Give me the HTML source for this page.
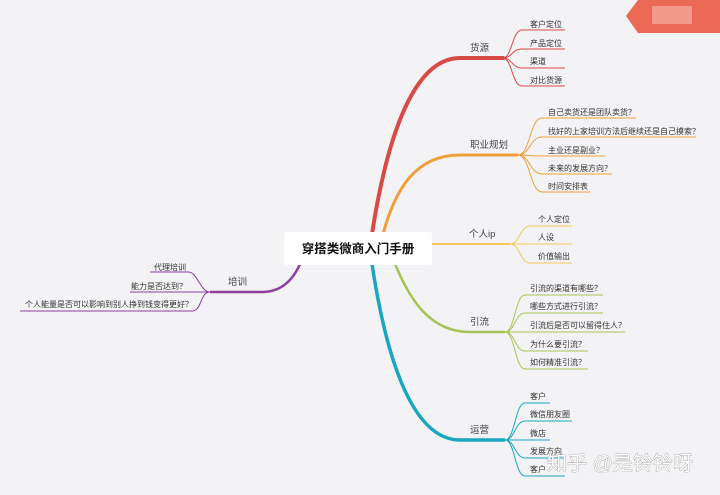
<!DOCTYPE html>
<html><head><meta charset="utf-8"><style>
html,body{margin:0;padding:0;background:#f3f3f6;}
svg{display:block}
text{font-family:"Liberation Sans","Noto Sans CJK SC",sans-serif;fill:#333;}
.c{font-size:8px}
.b{font-size:9.5px;fill:#444}
</style></head><body>
<svg width="720" height="495" viewBox="0 0 720 495" xmlns="http://www.w3.org/2000/svg">
<rect width="720" height="495" fill="#f3f3f6"/>
<!-- watermark banner -->
<polygon points="638,0 720,0 720,33 638,33 626,16" fill="#ec6a55"/>
<rect x="652" y="6" width="40" height="18" fill="#f4a89b" opacity="0.8"/>
<!-- main branches -->
<path d="M372,234 C385,150 410,58 460,58 L503,58" stroke="#d84a45" stroke-width="4" fill="none" stroke-linecap="round"/>
<path d="M383,234 C395,190 415,155 460,155 L518,155" stroke="#f0a03a" stroke-width="3" fill="none"/>
<path d="M430,244 L510,244" stroke="#f3c75a" stroke-width="2" fill="none"/>
<path d="M395,264 C410,300 430,332 470,332 L505,332" stroke="#a7c354" stroke-width="2.5" fill="none"/>
<path d="M372,264 C385,350 410,440 460,440 L505,440" stroke="#1aa6c0" stroke-width="3.5" fill="none"/>
<path d="M300,264 C292,282 280,292 262,292 L210,292" stroke="#8e3fa1" stroke-width="2.5" fill="none"/>
<!-- red children -->
<g stroke="#d84a45" stroke-width="1" fill="none">
<path d="M503,58 C512,58 512,30 522,30 L565,30"/>
<path d="M503,58 C512,58 512,49 522,49 L565,49"/>
<path d="M503,58 C512,58 512,68 522,68 L565,68"/>
<path d="M503,58 C512,58 512,86 522,86 L565,86"/>
</g>
<g stroke="#f0a03a" stroke-width="1" fill="none">
<path d="M518,155 C530,155 530,118 542,118 L636,118"/>
<path d="M518,155 C530,155 530,137 542,137 L696,137"/>
<path d="M518,155 C530,155 530,156 542,156 L605,156"/>
<path d="M518,155 C530,155 530,174 542,174 L612,174"/>
<path d="M518,155 C530,155 530,192 542,192 L590,192"/>
</g>
<g stroke="#f3c75a" stroke-width="1" fill="none">
<path d="M510,244 C520,244 520,226 530,226 L572,226"/>
<path d="M510,244 L572,244"/>
<path d="M510,244 C520,244 520,263 530,263 L572,263"/>
</g>
<g stroke="#a7c354" stroke-width="1" fill="none">
<path d="M505,332 C515,332 515,295 525,295 L603,295"/>
<path d="M505,332 C515,332 515,313 525,313 L603,313"/>
<path d="M505,332 L625,332"/>
<path d="M505,332 C515,332 515,351 525,351 L588,351"/>
<path d="M505,332 C515,332 515,369 525,369 L588,369"/>
</g>
<g stroke="#1aa6c0" stroke-width="1" fill="none">
<path d="M505,440 C515,440 515,403 525,403 L550,403"/>
<path d="M505,440 C515,440 515,421 525,421 L572,421"/>
<path d="M505,440 L550,440"/>
<path d="M505,440 C515,440 515,458 525,458 L565,458"/>
<path d="M505,440 C515,440 515,476 525,476 L565,476"/>
</g>
<g stroke="#8e3fa1" stroke-width="1" fill="none">
<path d="M210,292 C200,292 198,272 188,272 L150,272"/>
<path d="M210,292 L130,292"/>
<path d="M210,292 C200,292 202,311 192,311 L20,311"/>
</g>
<!-- center -->
<rect x="284" y="232" width="148" height="33" fill="#fff" rx="3"/>
<text x="358" y="253" text-anchor="middle" style="font-size:12.5px;font-weight:bold;fill:#111">穿搭类微商入门手册</text>
<!-- labels -->
<text class="b" x="470" y="51">货源</text>
<text class="b" x="470" y="148">职业规划</text>
<text class="b" x="469" y="237">个人ip</text>
<text class="b" x="470" y="325">引流</text>
<text class="b" x="470" y="433">运营</text>
<text class="b" x="228" y="285">培训</text>
<text class="c" x="530" y="27">客户定位</text>
<text class="c" x="530" y="46">产品定位</text>
<text class="c" x="530" y="64">渠道</text>
<text class="c" x="530" y="83">对比货源</text>
<text class="c" x="548" y="115">自己卖货还是团队卖货？</text>
<text class="c" x="548" y="134">找好的上家培训方法后继续还是自己摸索？</text>
<text class="c" x="548" y="153">主业还是副业？</text>
<text class="c" x="548" y="171">未来的发展方向？</text>
<text class="c" x="548" y="189">时间安排表</text>
<text class="c" x="538" y="222">个人定位</text>
<text class="c" x="538" y="240">人设</text>
<text class="c" x="538" y="259">价值输出</text>
<text class="c" x="530" y="291">引流的渠道有哪些？</text>
<text class="c" x="530" y="309">哪些方式进行引流？</text>
<text class="c" x="530" y="328">引流后是否可以留得住人？</text>
<text class="c" x="530" y="347">为什么要引流？</text>
<text class="c" x="530" y="365">如何精准引流？</text>
<text class="c" x="530" y="399">客户</text>
<text class="c" x="530" y="417">微信朋友圈</text>
<text class="c" x="530" y="436">微店</text>
<text class="c" x="530" y="454">发展方向</text>
<text class="c" x="530" y="472">客户</text>
<text class="c" x="154" y="270">代理培训</text>
<text class="c" x="131" y="289">能力是否达到？</text>
<text class="c" x="25" y="307">个人能量是否可以影响到别人挣到钱变得更好？</text>
<!-- watermark text -->
<text x="547" y="470" style="font-size:20px;fill:#fff;stroke:#888;stroke-width:0.6;paint-order:stroke">知乎 @是铃铃呀</text>
</svg>
</body></html>
